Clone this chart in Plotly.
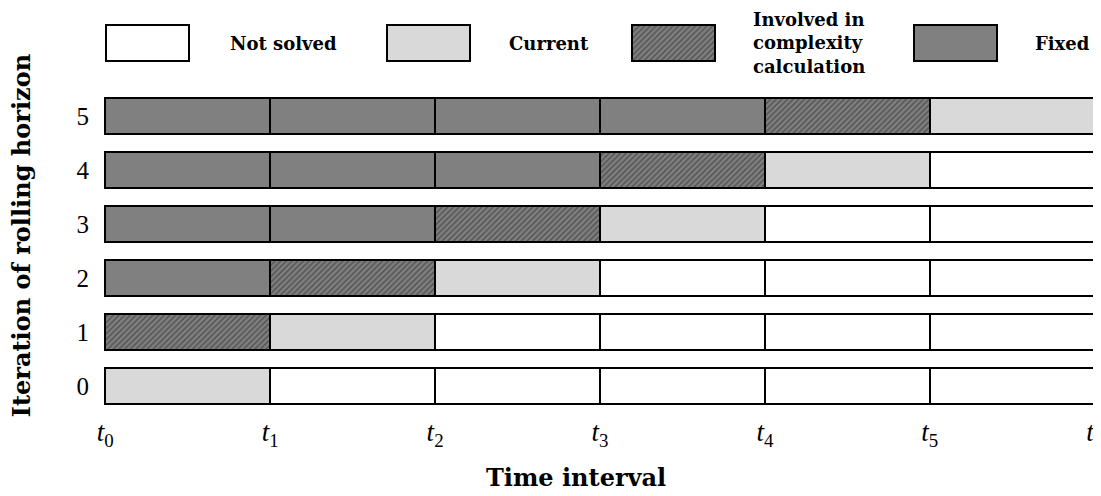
import plotly.graph_objects as go

# ---- data ----
iterations = [0, 1, 2, 3, 4, 5]
time_ticks = ["t0", "t1", "t2", "t3", "t4", "t5", "t6"]
tick_text = ["<i>t</i><sub>%d</sub>" % i for i in range(7)]
# status of each interval per iteration: N=not solved, C=current, I=involved, F=fixed
status = [
    ["C", "N", "N", "N", "N", "N"],
    ["I", "C", "N", "N", "N", "N"],
    ["F", "I", "C", "N", "N", "N"],
    ["F", "F", "I", "C", "N", "N"],
    ["F", "F", "F", "I", "C", "N"],
    ["F", "F", "F", "F", "I", "C"],
]
categories = ["N", "C", "I", "F"]
cat_labels = ["Not solved", "Current", "Involved in<br>complexity<br>calculation", "Fixed"]
cat_colors = ["#ffffff", "#d9d9d9", "#7f7f7f", "#808080"]
cat_hatch = ["", "", "/", ""]

# legend layout (pixel-like coordinates on an auxiliary axis)
legend_box_x = [105.5, 387, 632, 913.5]
legend_box_w = 83
legend_y = 43
legend_text_x = [283.5, 548.5, 751, 1062]
legend_text_anchor = ["center", "center", "left", "center"]

SERIF = "DejaVu Serif"
fig = go.Figure()

for cat, col, hatch in zip(categories, cat_colors, cat_hatch):
    ys, bases = [], []
    for r, row in enumerate(status):
        for j, s in enumerate(row):
            if s == cat:
                ys.append(iterations[r])
                bases.append(j)
    marker = dict(color=col, line=dict(color="black", width=2))
    if hatch:
        marker["pattern"] = dict(shape=hatch, fgcolor="#222222", bgcolor=col, size=4, solidity=0.35)
    fig.add_trace(go.Bar(
        y=ys, x=[1] * len(ys), base=bases, orientation="h", width=0.685,
        marker=marker, showlegend=False, hoverinfo="skip",
        xaxis="x", yaxis="y",
    ))

# legend boxes
for i, (col, hatch) in enumerate(zip(cat_colors, cat_hatch)):
    marker = dict(color=col, line=dict(color="black", width=2))
    if hatch:
        marker["pattern"] = dict(shape=hatch, fgcolor="#222222", bgcolor=col, size=4, solidity=0.35)
    fig.add_trace(go.Bar(
        y=[legend_y], x=[legend_box_w], base=[legend_box_x[i]], orientation="h", width=37,
        marker=marker, showlegend=False, hoverinfo="skip",
        xaxis="x2", yaxis="y2",
    ))
    fig.add_annotation(
        x=legend_text_x[i], y=legend_y, xref="x2", yref="y2", text="<b>%s</b>" % cat_labels[i],
        showarrow=False, xanchor=legend_text_anchor[i], yanchor="middle", align="left",
        font=dict(family=SERIF, size=18, color="black"),
    )

fig.add_annotation(
    x=-0.080, y=0.4505, xref="paper", yref="paper", text="<b>Iteration of rolling horizon</b>",
    textangle=-90, showarrow=False, xanchor="center", yanchor="middle",
    font=dict(family=SERIF, size=24, color="black"),
)
fig.add_annotation(
    x=0.4764, y=-0.163, xref="paper", yref="paper", text="<b>Time interval</b>",
    showarrow=False, xanchor="center", yanchor="middle",
    font=dict(family=SERIF, size=24, color="black"),
)

fig.update_layout(
    width=1093, height=488,
    margin=dict(l=94, r=3, t=12, b=83, autoexpand=False),
    plot_bgcolor="white", paper_bgcolor="white",
    barmode="overlay", bargap=0,
    xaxis=dict(range=[-0.02, 6.02], domain=[0, 1], tickvals=list(range(7)), ticktext=tick_text,
               showgrid=False, zeroline=False, showline=False, ticks="", ticklabelstandoff=0,
               ticklabeloverflow="allow", automargin=False,
               tickfont=dict(family="Liberation Serif", size=27, color="black"), fixedrange=True),
    yaxis=dict(range=[-0.5, 5.5], domain=[0, 0.8244], tickvals=iterations,
               ticktext=[str(v) for v in iterations], automargin=False,
               showgrid=False, zeroline=False, showline=False, ticks="", ticklabelstandoff=12,
               tickfont=dict(family="Liberation Serif", size=25, color="black"), fixedrange=True),
    xaxis2=dict(range=[102, 1098], domain=[0, 1], anchor="y2", visible=False, fixedrange=True),
    yaxis2=dict(range=[70, 20], domain=[0.8728, 1], anchor="x2", visible=False, fixedrange=True),
)

fig.write_html("out.html")
